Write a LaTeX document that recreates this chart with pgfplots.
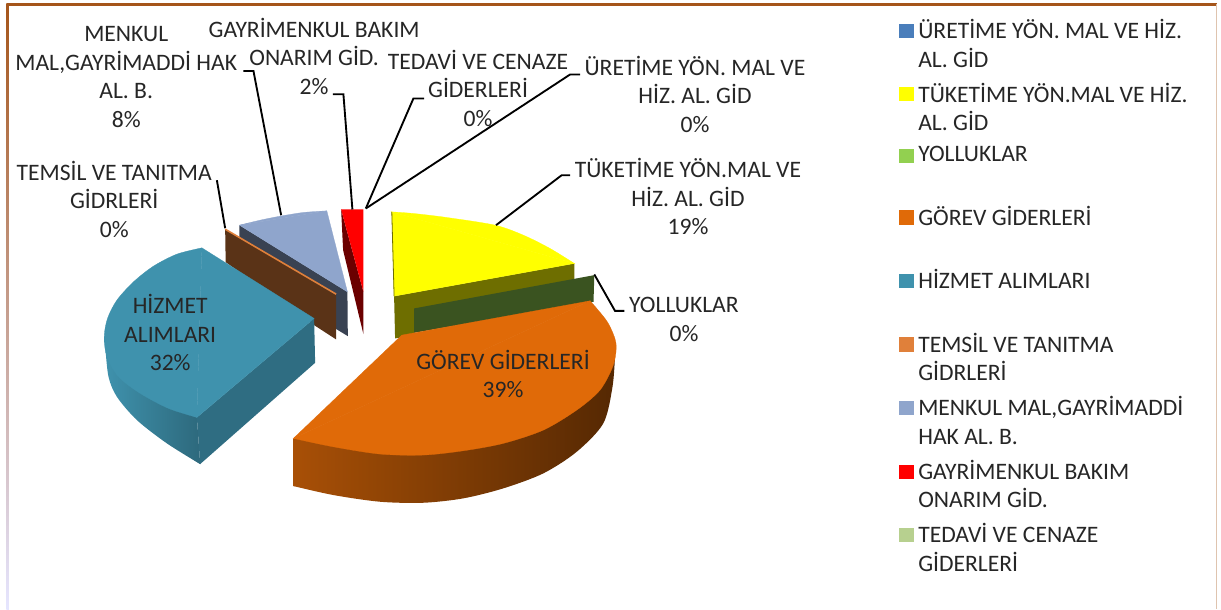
\documentclass[border=0pt]{standalone}
\usepackage{pgfplots}
\pgfplotsset{compat=1.18}
\usepackage{fontspec}
\setmainfont{Carlito}
\definecolor{cUret}{HTML}{4A7EBB}
\definecolor{cTuk}{HTML}{FFFF00}
\definecolor{cYol}{HTML}{92D050}
\definecolor{cGor}{HTML}{E06A08}
\definecolor{cHiz}{HTML}{3F92AD}
\definecolor{cTem}{HTML}{E0803A}
\definecolor{cMen}{HTML}{8FA5CC}
\definecolor{cGay}{HTML}{FF0000}
\definecolor{cTed}{HTML}{B7D08F}
\definecolor{cFrame}{HTML}{A5551A}
\tikzset{
    leader/.style={black, line width=1.4pt},
    txt/.style={align=center, text=black!85, font=\fontsize{17.7}{21.4}\selectfont},
}
% one axis unit = one pixel of the reference
% faces: a smooth arc closed by its chord, plus a straight piece to the tip
\begin{document}
\begin{tikzpicture}
\begin{axis}[
    scale only axis, width=915.75pt, height=456.75pt,
    xmin=0, xmax=1221, ymin=0, ymax=609, y dir=reverse,
    axis lines=none, clip=false,
    legend style={at={(axis cs:899.5,19)}, anchor=north west, draw=none, fill=none,
        row sep=31.74pt, inner sep=0pt, outer sep=0pt,
        font=\fontsize{17.7}{21.4}\selectfont, text=black!85,
        nodes={inner sep=0pt, outer sep=0pt}},
    legend cell align=left,
    legend image code/.code={\fill[#1] (0pt,-5.5pt) rectangle (10pt,4.5pt);\path[draw=none,fill=none] (0pt,0pt) -- (14pt,0pt);},
    every axis plot/.append style={forget plot},
]
% frame, keeps the page as large as the reference
\addplot[white, fill=white] coordinates {(0,0) (1221,0) (1221,609) (0,609) (0,0)};
\addplot[cFrame, line width=2.4pt] coordinates {(7,4) (1217,4)};
\addplot[cFrame!35!white, line width=0.8pt] coordinates {(1217,4) (1217,609)};
\addplot[top color=cFrame, bottom color=blue!10!white, draw=none] coordinates {(6,3) (8.5,3) (8.5,609) (6,609)} -- cycle;

% menkul, temsil wall sits behind hizmet
\addplot[fill=cMen!40!black, draw=none] coordinates {(239.3,225) (347.3,291.7) (347.7,336) (239.3,270)} -- cycle;
\addplot[fill=cMen, draw=cMen, line width=0.2pt, smooth] coordinates {(239.3,225) (260,220) (280,216) (303.3,212.3) (326.7,210.7)} -- cycle;
\addplot[fill=cMen, draw=cMen, line width=0.2pt] coordinates {(239.3,225) (326.7,210.7) (347.3,291.7)} -- cycle;
\addplot[fill=cTem!40!black, draw=none] coordinates {(225,229.3) (336,295) (336,339.3) (314,325) (225.5,262)} -- cycle;
\addplot[cTem, line width=1.2pt] coordinates {(225,229) (336,294)};

% gayrimenkul
\addplot[fill=cGay!42!black, draw=none] coordinates {(341,209.3) (363.3,291.7) (363.3,334) (343,250)} -- cycle;
\addplot[fill=cGay, draw=none] coordinates {(341,209.3) (363.3,209.3) (363.3,291.7)} -- cycle;

% hizmet
\addplot[left color=cHiz, right color=cHiz!72!black, draw=none, smooth] coordinates {(104,336.7) (105,346.7) (108.3,376.7) (116.7,396.7) (136.7,420) (166.7,443.3) (200,464)} -- cycle;
\addplot[left color=cHiz!86.6!black, right color=cHiz!72!black, draw=none] coordinates {(150,395) (196.7,417.3) (200,464) (170,444) (150,430)} -- cycle;
\addplot[fill=cHiz!75!black, draw=none] coordinates {(196.7,417.3) (314,318.3) (315,362.7) (200,464)} -- cycle;
\addplot[fill=cHiz, draw=cHiz, line width=0.2pt, smooth] coordinates {(201.7,247.7) (176.7,254) (153.3,266) (133.3,281.7) (116.7,300) (107.3,318.3) (104,336.7) (106.7,356.7) (118.3,376.7) (140,393.3) (168.3,408.3) (196.7,417.3)} -- cycle;
\addplot[fill=cHiz, draw=cHiz, line width=0.2pt] coordinates {(201.7,247.7) (196.7,417.3) (314,318.3)} -- cycle;

% tuketime and yolluklar
\addplot[fill=cTuk!43!black, draw=none] coordinates {(394,296) (574.3,263.3) (574.3,285) (414,320) (414,335) (395,338.3)} -- cycle;
\addplot[fill=cTuk, draw=cTuk, line width=0.2pt, smooth] coordinates {(391.7,211.7) (413.3,213.3) (446.7,217.3) (495,225) (523.3,235) (550,248.3) (574.3,263.3)} -- cycle;
\addplot[fill=cTuk, draw=cTuk, line width=0.2pt] coordinates {(391.7,211.7) (574.3,263.3) (394,296)} -- cycle;
\addplot[cTuk!43!black, line width=0.6pt] coordinates {(391.7,211.7) (394,296)};
\addplot[fill=cYol!40!black, draw=none] coordinates {(414,308.3) (594.3,275) (593.5,301.7) (414,332.7)} -- cycle;

% gorev
\addplot[left color=cGor!75!black, right color=cGor!38!black, draw=none, smooth] coordinates {(293.3,486) (333.3,495) (380,501.7) (423.3,502.7) (463.3,498.3) (503.3,488.3) (543.3,473.3) (576.7,451.7) (603.3,423.3) (612.5,386.7) (615,356)} -- cycle;
\addplot[left color=cGor!75!black, right color=cGor!65!black, draw=none] coordinates {(293.3,438.3) (293.3,486) (380,490) (380,450)} -- cycle;
\addplot[fill=cGor, draw=cGor, line width=0.2pt, smooth] coordinates {(293.3,438.3) (333,446.7) (380,454) (423.3,455) (463.3,450.7) (503.3,443.3) (543.3,430) (576.7,410) (600,390) (613.3,365) (616,343.3) (608.3,323.3) (596.7,308.3) (590,300.7)} -- cycle;
\addplot[fill=cGor, draw=cGor, line width=0.2pt] coordinates {(293.3,438.3) (590,300.7) (401.7,335)} -- cycle;

% leader lines
\addplot[leader] coordinates {(216.7,180) (225,228)};
\addplot[leader] coordinates {(243.3,70.7) (253.3,70.7) (281,215)};
\addplot[leader] coordinates {(332.7,94) (343.3,94) (352.3,209.3)};
\addplot[leader] coordinates {(424,98.3) (413.3,98.3) (365.7,208.3)};
\addplot[leader] coordinates {(580,74.3) (570,74.3) (365.7,208.3)};
\addplot[leader] coordinates {(570,175) (561.7,175) (496,225)};
\addplot[leader] coordinates {(624.3,310.7) (615,310.7) (594.3,274.3)};

% labels
\node[txt] at (axis cs:126,77) {MENKUL\\MAL,GAYRİMADDİ HAK\\AL. B.\\8\%};
\node[txt] at (axis cs:314,56) {GAYRİMENKUL BAKIM\\ONARIM GİD.\\2\%};
\node[txt] at (axis cs:478,88) {TEDAVİ VE CENAZE\\GİDERLERİ\\0\%};
\node[txt] at (axis cs:695,94) {ÜRETİME YÖN. MAL VE\\HİZ. AL. GİD\\0\%};
\node[txt] at (axis cs:688,196.5) {TÜKETİME YÖN.MAL VE\\HİZ. AL. GİD\\19\%};
\node[txt] at (axis cs:114,199) {TEMSİL VE TANITMA\\GİDRLERİ\\0\%};
\node[txt] at (axis cs:684,319.5) {YOLLUKLAR\\0\%};
\node[txt] at (axis cs:170,332.5) {HİZMET\\ALIMLARI\\32\%};
\node[txt] at (axis cs:503,374) {GÖREV GİDERLERİ\\39\%};

% legend
\addlegendimage{cUret}
\addlegendentry{\parbox[t]{220pt}{ÜRETİME YÖN. MAL VE HİZ.\\AL. GİD}}
\addlegendimage{cTuk}
\addlegendentry{\parbox[t]{220pt}{TÜKETİME YÖN.MAL VE HİZ.\\AL. GİD}}
\addlegendimage{cYol}
\addlegendentry{\parbox[t]{220pt}{YOLLUKLAR}}
\addlegendimage{cGor}
\addlegendentry{\parbox[t]{220pt}{GÖREV GİDERLERİ}}
\addlegendimage{cHiz}
\addlegendentry{\parbox[t]{220pt}{HİZMET ALIMLARI}}
\addlegendimage{cTem}
\addlegendentry{\parbox[t]{220pt}{TEMSİL VE TANITMA\\GİDRLERİ}}
\addlegendimage{cMen}
\addlegendentry{\parbox[t]{220pt}{MENKUL MAL,GAYRİMADDİ\\HAK AL. B.}}
\addlegendimage{cGay}
\addlegendentry{\parbox[t]{220pt}{GAYRİMENKUL BAKIM\\ONARIM GİD.}}
\addlegendimage{cTed}
\addlegendentry{\parbox[t]{220pt}{TEDAVİ VE CENAZE\\GİDERLERİ}}
\end{axis}
\end{tikzpicture}
\end{document}
